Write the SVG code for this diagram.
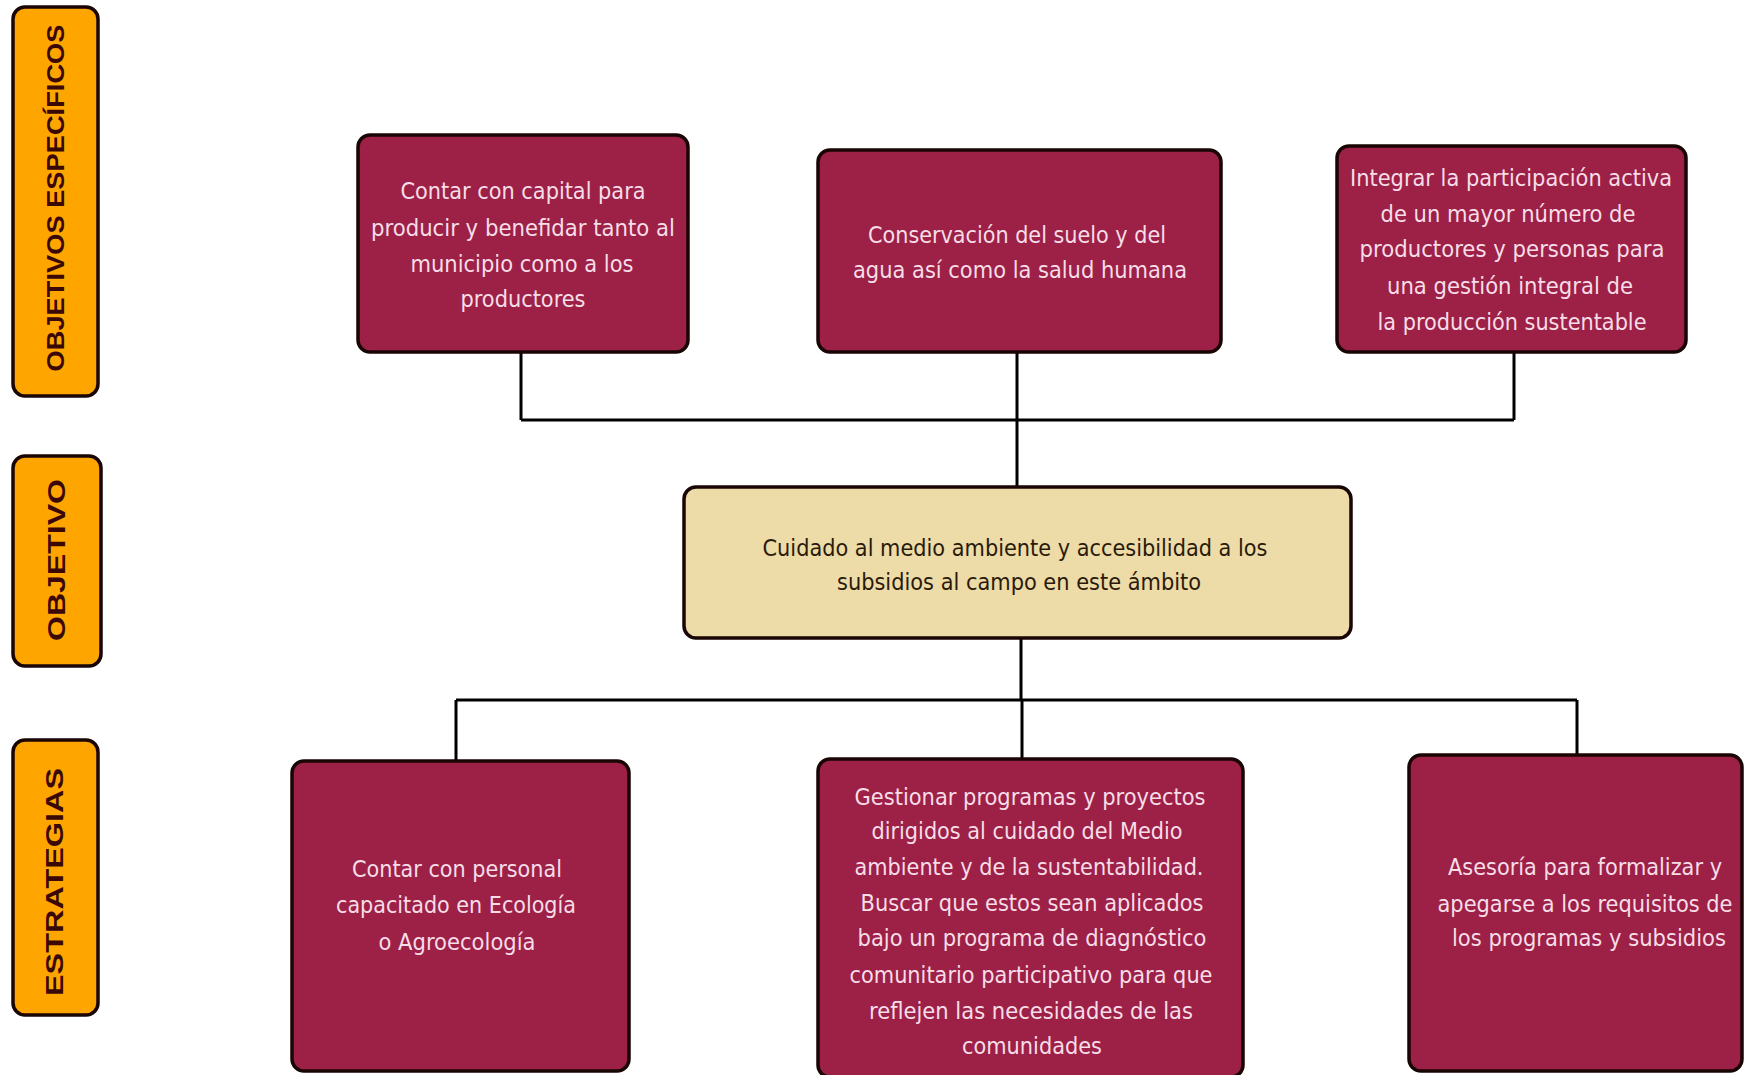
<svg xmlns="http://www.w3.org/2000/svg" width="1745" height="1075" viewBox="0 0 1745 1075">
<style>
.side{fill:#FFA500;stroke:#1a0505;stroke-width:3.5}
.mar{fill:#9D2146;stroke:#1a0505;stroke-width:3.5}
.bei{fill:#EDDBA8;stroke:#1a0505;stroke-width:3.5}
.st{font-family:"Liberation Sans","DejaVu Sans",sans-serif;font-weight:bold;font-size:24px;fill:#3b0808;text-anchor:middle}
.wt{font-family:"DejaVu Sans Condensed","DejaVu Sans",sans-serif;font-size:23px;fill:#F6DDE8;text-anchor:middle}
.dt{font-family:"DejaVu Sans Condensed","DejaVu Sans",sans-serif;font-size:23px;fill:#2a1a0a;text-anchor:middle}
.con{fill:none;stroke:#000;stroke-width:3}
</style>
<rect width="1745" height="1075" fill="#fff"/>
<g id="connectors">
<path class="con" d="M521 352V420M1514 352V420M521 420H1514M1017 352V487"/>
<path class="con" d="M1021 638V700M456 700H1577M456 700V761M1022 700V759M1577 700V755"/>
</g>
<g id="label-objetivos-especificos">
<rect class="side" x="13" y="7" width="85" height="389" rx="12"/>
<text class="st" transform="translate(55,198) rotate(-90)" y="9" textLength="347" lengthAdjust="spacingAndGlyphs">OBJETIVOS ESPECÍFICOS</text>
</g>
<g id="label-objetivo">
<rect class="side" x="13" y="456" width="88" height="210" rx="12"/>
<text class="st" transform="translate(56,560) rotate(-90)" y="9" textLength="162" lengthAdjust="spacingAndGlyphs">OBJETIVO</text>
</g>
<g id="label-estrategias">
<rect class="side" x="13" y="740" width="85" height="275" rx="12"/>
<text class="st" transform="translate(54,882) rotate(-90)" y="9" textLength="228" lengthAdjust="spacingAndGlyphs">ESTRATEGIAS</text>
</g>
<g id="obj1">
<rect class="mar" x="358" y="135" width="330" height="217" rx="12"/>
<text class="wt" x="523" y="199" textLength="245" lengthAdjust="spacingAndGlyphs">Contar con capital para</text>
<text class="wt" x="523" y="236" textLength="304" lengthAdjust="spacingAndGlyphs">producir y benefidar tanto al</text>
<text class="wt" x="522" y="272" textLength="223" lengthAdjust="spacingAndGlyphs">municipio como a los</text>
<text class="wt" x="523" y="307" textLength="125" lengthAdjust="spacingAndGlyphs">productores</text>
</g>
<g id="obj2">
<rect class="mar" x="818" y="150" width="403" height="202" rx="12"/>
<text class="wt" x="1017" y="243" textLength="298" lengthAdjust="spacingAndGlyphs">Conservación del suelo y del</text>
<text class="wt" x="1020" y="278" textLength="334" lengthAdjust="spacingAndGlyphs">agua así como la salud humana</text>
</g>
<g id="obj3">
<rect class="mar" x="1337" y="146" width="349" height="206" rx="12"/>
<text class="wt" x="1511" y="186" textLength="322" lengthAdjust="spacingAndGlyphs">Integrar la participación activa</text>
<text class="wt" x="1508" y="222" textLength="255" lengthAdjust="spacingAndGlyphs">de un mayor número de</text>
<text class="wt" x="1512" y="257" textLength="305" lengthAdjust="spacingAndGlyphs">productores y personas para</text>
<text class="wt" x="1510" y="294" textLength="246" lengthAdjust="spacingAndGlyphs">una gestión integral de</text>
<text class="wt" x="1512" y="330" textLength="269" lengthAdjust="spacingAndGlyphs">la producción sustentable</text>
</g>
<g id="objetivo">
<rect class="bei" x="684" y="487" width="667" height="151" rx="12"/>
<text class="dt" x="1015" y="556" textLength="505" lengthAdjust="spacingAndGlyphs">Cuidado al medio ambiente y accesibilidad a los</text>
<text class="dt" x="1019" y="590" textLength="364" lengthAdjust="spacingAndGlyphs">subsidios al campo en este ámbito</text>
</g>
<g id="est1">
<rect class="mar" x="292" y="761" width="337" height="310" rx="12"/>
<text class="wt" x="457" y="877" textLength="210" lengthAdjust="spacingAndGlyphs">Contar con personal</text>
<text class="wt" x="456" y="913" textLength="240" lengthAdjust="spacingAndGlyphs">capacitado en Ecología</text>
<text class="wt" x="457" y="950" textLength="157" lengthAdjust="spacingAndGlyphs">o Agroecología</text>
</g>
<g id="est2">
<rect class="mar" x="818" y="759" width="425" height="318" rx="12"/>
<text class="wt" x="1030" y="805" textLength="351" lengthAdjust="spacingAndGlyphs">Gestionar programas y proyectos</text>
<text class="wt" x="1027" y="839" textLength="311" lengthAdjust="spacingAndGlyphs">dirigidos al cuidado del Medio</text>
<text class="wt" x="1029" y="875" textLength="349" lengthAdjust="spacingAndGlyphs">ambiente y de la sustentabilidad.</text>
<text class="wt" x="1032" y="911" textLength="343" lengthAdjust="spacingAndGlyphs">Buscar que estos sean aplicados</text>
<text class="wt" x="1032" y="946" textLength="349" lengthAdjust="spacingAndGlyphs">bajo un programa de diagnóstico</text>
<text class="wt" x="1031" y="983" textLength="363" lengthAdjust="spacingAndGlyphs">comunitario participativo para que</text>
<text class="wt" x="1031" y="1019" textLength="324" lengthAdjust="spacingAndGlyphs">reflejen las necesidades de las</text>
<text class="wt" x="1032" y="1054" textLength="140" lengthAdjust="spacingAndGlyphs">comunidades</text>
</g>
<g id="est3">
<rect class="mar" x="1409" y="755" width="333" height="316" rx="12"/>
<text class="wt" x="1585" y="875" textLength="274" lengthAdjust="spacingAndGlyphs">Asesoría para formalizar y</text>
<text class="wt" x="1585" y="912" textLength="295" lengthAdjust="spacingAndGlyphs">apegarse a los requisitos de</text>
<text class="wt" x="1589" y="946" textLength="274" lengthAdjust="spacingAndGlyphs">los programas y subsidios</text>
</g>
</svg>
